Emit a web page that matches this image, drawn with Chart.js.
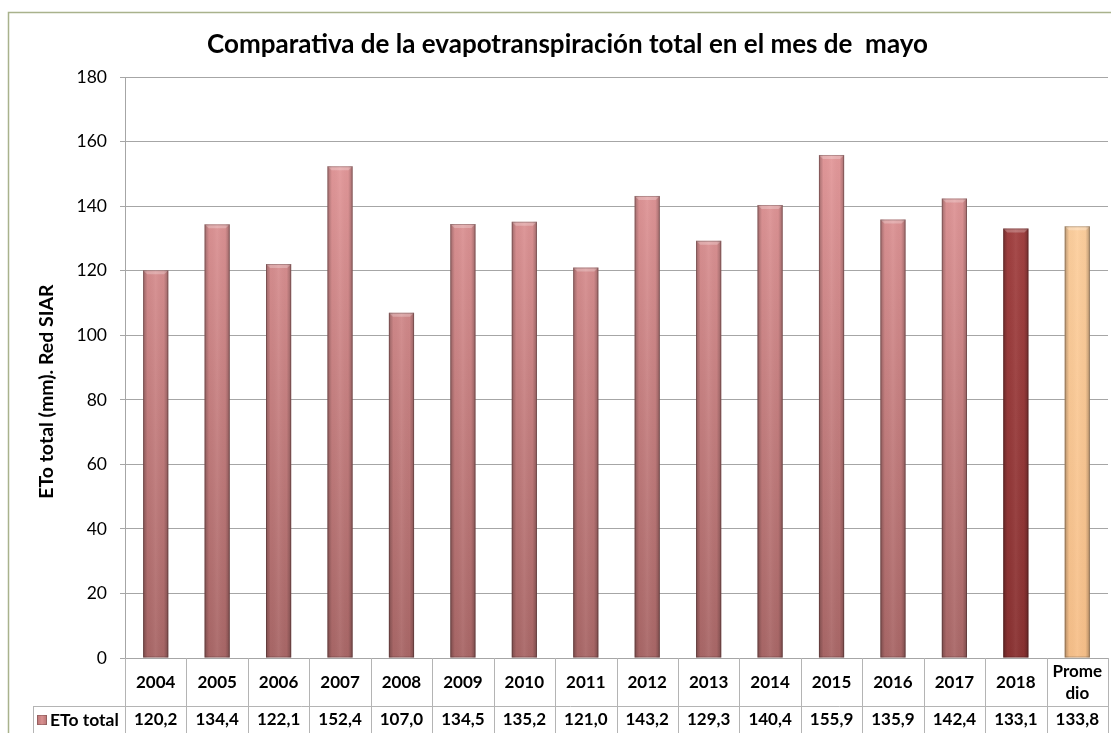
<!DOCTYPE html>
<html>
<head>
<meta charset="utf-8">
<script src="https://cdn.jsdelivr.net/npm/chart.js@4.4.1/dist/chart.umd.min.js"></script>
<style>
html,body{margin:0;padding:0;background:#fff;}
#wrap{width:1111px;height:733px;}
</style>
</head>
<body>
<div id="wrap"><canvas id="c" width="1111" height="733"></canvas></div>
<script>
// ---- data ----
const categories = ['2004','2005','2006','2007','2008','2009','2010','2011','2012','2013','2014','2015','2016','2017','2018',['Prome','dio']];
const etoTotal = [120.2,134.4,122.1,152.4,107.0,134.5,135.2,121.0,143.2,129.3,140.4,155.9,135.9,142.4,133.1,133.8];
const seriesName = 'ETo total';
const chartTitle = 'Comparativa de la evapotranspiración total en el mes de  mayo';
const yAxisTitle = 'ETo total (mm). Red SIAR';
const yTicks = {min: 0, max: 180, step: 20};

// ---- styles ----
const FONT = 'Lato, "Open Sans", sans-serif';
const palettes = {
  normal: ['#ECA0A2', '#A96767'],
  current: ['#AA4646', '#8A3232'],
  mean: ['#FFD4A4', '#F7C08A']
};
function paletteFor(i){
  if (i === categories.length - 1) return palettes.mean;
  if (i === categories.length - 2) return palettes.current;
  return palettes.normal;
}
const fmt = v => v.toFixed(1).replace('.', ',');

const bgPlugin = {
  id: 'bg',
  beforeDraw(chart){
    const ctx = chart.ctx;
    ctx.save();
    ctx.fillStyle = '#fff';
    ctx.fillRect(0,0,chart.width,chart.height);
    ctx.strokeStyle = '#A9B28C';
    ctx.lineWidth = 1.5;
    ctx.beginPath();
    ctx.moveTo(8.5, chart.height);
    ctx.lineTo(8.5, 12.5);
    ctx.lineTo(chart.width, 12.5);
    ctx.stroke();
    ctx.restore();
  }
};

const bevelPlugin = {
  id: 'bevel',
  afterDatasetsDraw(chart){
    const ctx = chart.ctx;
    const meta = chart.getDatasetMeta(0);
    ctx.save();
    meta.data.forEach(bar => {
      const {x, y, base, width} = bar.getProps(['x','y','base','width'], true);
      const l = x - width/2, r = x + width/2;
      const g = ctx.createLinearGradient(l, 0, r, 0);
      g.addColorStop(0, 'rgba(0,0,0,0.28)');
      g.addColorStop(0.18, 'rgba(0,0,0,0.02)');
      g.addColorStop(0.5, 'rgba(255,255,255,0.06)');
      g.addColorStop(0.82, 'rgba(0,0,0,0.02)');
      g.addColorStop(1, 'rgba(0,0,0,0.28)');
      ctx.fillStyle = g;
      ctx.fillRect(l, y, width, base - y);
      ctx.fillStyle = 'rgba(255,255,255,0.25)';
      ctx.beginPath();
      ctx.moveTo(l, y); ctx.lineTo(r, y); ctx.lineTo(r-4, y+4); ctx.lineTo(l+4, y+4); ctx.closePath();
      ctx.fill();
      ctx.strokeStyle = 'rgba(0,0,0,0.22)';
      ctx.lineWidth = 1;
      ctx.strokeRect(l+0.5, y+0.5, width-1, base-y-1);
    });
    ctx.restore();
  }
};

const tablePlugin = {
  id: 'table',
  afterDraw(chart){
    const ctx = chart.ctx;
    const xs = chart.scales.x;
    const n = categories.length;
    const left = xs.left, right = xs.right;
    const step = (right - left) / n;
    const top = xs.top, mid = xs.bottom, bottom = chart.height;
    const tableLeft = 33;
    ctx.save();
    ctx.strokeStyle = '#B4B4B4';
    ctx.lineWidth = 1;
    ctx.beginPath();
    for (let i = 0; i <= n; i++){
      const px = Math.round(left + i*step) + 0.5;
      ctx.moveTo(px, top); ctx.lineTo(px, bottom);
    }
    ctx.moveTo(tableLeft + 0.5, mid); ctx.lineTo(tableLeft + 0.5, bottom);
    ctx.moveTo(tableLeft, Math.round(mid)+0.5); ctx.lineTo(right, Math.round(mid)+0.5);
    ctx.stroke();

    ctx.fillStyle = '#000';
    ctx.font = 'bold 17px ' + FONT;
    ctx.textAlign = 'center';
    ctx.textBaseline = 'middle';
    // category header row (vertically centred like a table cell)
    const headY = (top + mid) / 2 + 1;
    const lh = 22;
    categories.forEach((lab, i) => {
      const lines = Array.isArray(lab) ? lab : [lab];
      const cx = xs.getPixelForValue(i);
      const y0 = headY - (lines.length - 1) * lh / 2;
      lines.forEach((t, k) => ctx.fillText(t, cx, y0 + k * lh));
    });
    // values row
    const rowY = mid + 14;
    etoTotal.forEach((v, i) => {
      ctx.fillText(fmt(v), xs.getPixelForValue(i), rowY);
    });
    const kx = 37, ky = rowY - 5;
    const kg = ctx.createLinearGradient(kx, 0, kx + 10, 0);
    kg.addColorStop(0, '#B87474'); kg.addColorStop(0.5, '#D99191'); kg.addColorStop(1, '#B87474');
    ctx.fillStyle = kg;
    ctx.fillRect(kx, ky, 10, 10);
    ctx.strokeStyle = 'rgba(0,0,0,0.2)';
    ctx.strokeRect(kx+0.5, ky+0.5, 9, 9);
    ctx.fillStyle = '#000';
    ctx.textAlign = 'left';
    ctx.font = 'bold 17.5px ' + FONT;
    ctx.fillText(seriesName, 50, rowY);

    ctx.save();
    ctx.translate(47, (chart.chartArea.top + mid) / 2);
    ctx.rotate(-Math.PI/2);
    ctx.textAlign = 'center';
    ctx.font = 'bold 19.5px ' + FONT;
    ctx.fillText(yAxisTitle, 0, 0);
    ctx.restore();
    ctx.restore();
  }
};

new Chart(document.getElementById('c'), {
  type: 'bar',
  data: {
    labels: categories,
    datasets: [{
      label: seriesName,
      data: etoTotal,
      backgroundColor: (c) => {
        const p = paletteFor(c.dataIndex);
        const area = c.chart.chartArea;
        if (!area) return p[0];
        const g = c.chart.ctx.createLinearGradient(0, area.top, 0, area.bottom);
        g.addColorStop(0, p[0]);
        g.addColorStop(1, p[1]);
        return g;
      },
      borderWidth: 0,
      barPercentage: 0.41,
      categoryPercentage: 1
    }]
  },
  options: {
    responsive: false,
    animation: false,
    devicePixelRatio: 1,
    layout: {padding: {left: 27, right: 3, top: 0, bottom: 27}},
    plugins: {
      legend: {display: false},
      tooltip: {enabled: false},
      title: {
        display: true,
        text: chartTitle,
        color: '#000',
        font: {family: FONT, size: 26, weight: 'bold'},
        padding: {top: 29, bottom: 17}
      }
    },
    scales: {
      x: {
        grid: {display: false},
        border: {display: true, color: '#A6A6A6'},
        ticks: {display: false},
        afterFit(s){ s.height = 48; }
      },
      y: {
        min: yTicks.min, max: yTicks.max,
        ticks: {stepSize: yTicks.step, color: '#000', font: {family: FONT, size: 17.5}, padding: 13},
        grid: {color: '#A6A6A6', tickLength: 5, drawTicks: true},
        border: {display: true, color: '#A6A6A6'},
        afterFit(s){ s.width = 98; }
      }
    }
  },
  plugins: [bgPlugin, bevelPlugin, tablePlugin]
});
</script>
</body>
</html>
